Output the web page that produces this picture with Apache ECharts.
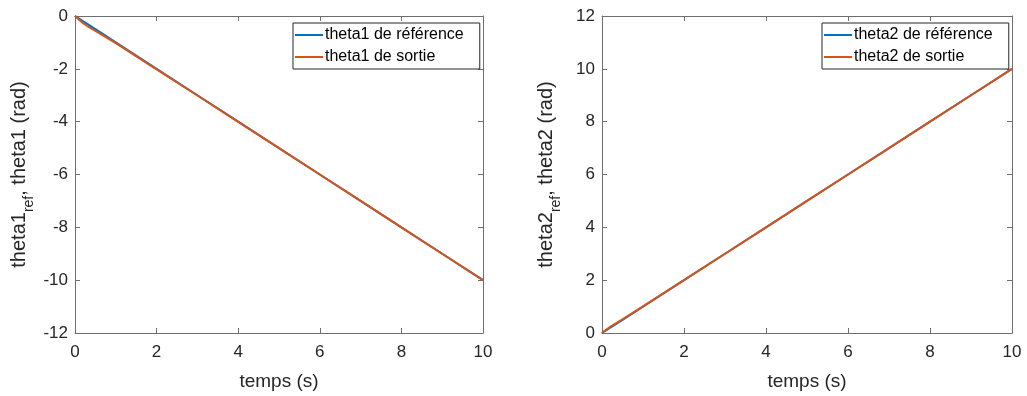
<!DOCTYPE html>
<html><head><meta charset="utf-8">
<script src="https://cdn.jsdelivr.net/npm/echarts@6/dist/echarts.min.js"></script>
<style>html,body{margin:0;padding:0;background:#fff}#c{width:1027px;height:396px}</style>
</head><body><div id="c"></div>
<script>
const temps = [0, 0.1, 0.2, 0.3, 0.5, 1, 2, 3, 4, 5, 6, 7, 8, 9, 10];
const theta1Ref = [0, -0.1, -0.2, -0.3, -0.5, -1, -2, -3, -4, -5, -6, -7, -8, -9, -10];
const theta1Out = [0, -0.14, -0.27, -0.38, -0.56, -1.03, -2.02, -3.01, -4.01, -5.0, -6.0, -7.0, -8.0, -9.0, -10.0];
const theta2Ref = [0, 0.1, 0.2, 0.3, 0.5, 1, 2, 3, 4, 5, 6, 7, 8, 9, 10];
const theta2Out = [0, 0.12, 0.23, 0.33, 0.52, 1.01, 2.0, 3.0, 4.0, 5.0, 6.0, 7.0, 8.0, 9.0, 10.0];
const xTicks = {min: 0, max: 10, interval: 2};
const y1Ticks = {min: -12, max: 0, interval: 2};
const y2Ticks = {min: 0, max: 12, interval: 2};
const names = ['theta1 de référence', 'theta1 de sortie', 'theta2 de référence', 'theta2 de sortie'];

const FONT = '"Liberation Sans", Arial, sans-serif';
const AX = '#6e6e6e';
const TXT = '#262626';
const blue = '#0072BD', orange = '#D95319';
const pair = (a, b) => a.map((v, i) => [v, b[i]]);

function xAx(g, pos, show) {
  return {type: 'value', gridIndex: g, position: pos, ...xTicks,
    name: show ? 'temps (s)' : '', nameLocation: 'middle', nameGap: 39,
    nameTextStyle: {fontFamily: FONT, fontSize: 19, color: TXT},
    axisLine: {show: true, onZero: false, lineStyle: {color: AX, width: 1}},
    axisTick: {show: true, inside: true, length: 5, lineStyle: {color: AX}},
    axisLabel: {show: show, fontFamily: FONT, fontSize: 17, color: TXT, margin: 11},
    splitLine: {show: false}};
}
function yAx(g, pos, show, ticks, nm) {
  return {type: 'value', gridIndex: g, position: pos, ...ticks,
    name: show ? nm : '', nameLocation: 'middle', nameRotate: 90, nameGap: 46,
    nameTextStyle: {fontFamily: FONT, fontSize: 20, color: TXT,
      rich: {m: {fontFamily: FONT, fontSize: 20, color: TXT, lineHeight: 26, verticalAlign: 'bottom'},
             s: {fontFamily: FONT, fontSize: 14, color: TXT, lineHeight: 26, verticalAlign: 'bottom', padding: [0, 0, -7, 0]}}},
    axisLine: {show: true, onZero: false, lineStyle: {color: AX, width: 1}},
    axisTick: {show: true, inside: true, length: 5, lineStyle: {color: AX}},
    axisLabel: {show: show, fontFamily: FONT, fontSize: 17, color: TXT, margin: 7},
    splitLine: {show: false}};
}
function legend(left, data) {
  return {orient: 'vertical', left: left, top: 23, data: data, icon: 'rect',
    backgroundColor: '#fff', borderColor: '#262626', borderWidth: 1, borderRadius: 0,
    padding: [4, 16, 4, 2], itemGap: 6, itemWidth: 28, itemHeight: 2,
    textStyle: {fontFamily: FONT, fontSize: 16, color: '#000', padding: [0, 0, 0, -3]}};
}

const chart = echarts.init(document.getElementById('c'), null, {renderer: 'canvas'});
chart.setOption({
  animation: false,
  backgroundColor: '#fff',
  grid: [{left: 75, top: 16, width: 408, height: 322}, {left: 602, top: 16, width: 410, height: 322}],
  xAxis: [xAx(0, 'bottom', true), xAx(1, 'bottom', true), xAx(0, 'top', false), xAx(1, 'top', false)],
  yAxis: [yAx(0, 'left', true, y1Ticks, '{m|theta1}{s|ref}{m|, theta1 (rad)}'),
          yAx(1, 'left', true, y2Ticks, '{m|theta2}{s|ref}{m|, theta2 (rad)}'),
          yAx(0, 'right', false, y1Ticks, ''), yAx(1, 'right', false, y2Ticks, '')],
  legend: [legend(293, [names[0], names[1]]), legend(822, [names[2], names[3]])],
  series: [
    {name: names[0], type: 'line', xAxisIndex: 0, yAxisIndex: 0, data: pair(temps, theta1Ref), symbol: 'none', color: blue, lineStyle: {width: 2, color: blue}},
    {name: names[1], type: 'line', xAxisIndex: 0, yAxisIndex: 0, data: pair(temps, theta1Out), symbol: 'none', color: orange, lineStyle: {width: 2, color: orange}},
    {name: names[2], type: 'line', xAxisIndex: 1, yAxisIndex: 1, data: pair(temps, theta2Ref), symbol: 'none', color: blue, lineStyle: {width: 2, color: blue}},
    {name: names[3], type: 'line', xAxisIndex: 1, yAxisIndex: 1, data: pair(temps, theta2Out), symbol: 'none', color: orange, lineStyle: {width: 2, color: orange}}
  ]
});
</script></body></html>
